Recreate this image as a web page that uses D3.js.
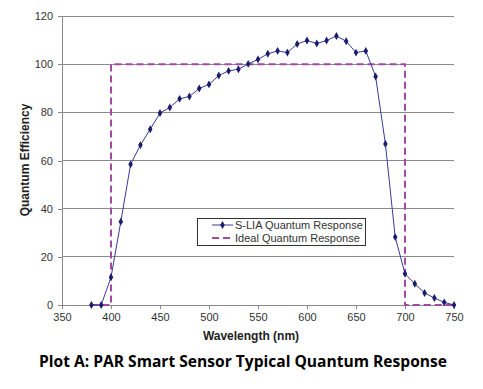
<!DOCTYPE html>
<html><head><meta charset="utf-8">
<script src="https://cdn.jsdelivr.net/npm/d3@7"></script>
<style>body{margin:0;background:#fff}svg{display:block}</style>
</head><body>
<svg id="c" width="483" height="389"></svg>
<script>
const wavelengths = [380,390,400,410,420,430,440,450,460,470,480,490,500,510,520,530,540,550,560,570,580,590,600,610,620,630,640,650,660,670,680,690,700,710,720,730,740,750];
const measured = [0,0,11.5,34.6,58.4,66.4,73,79.7,82,85.6,86.6,89.9,91.6,95.3,97.2,97.9,100.1,102,104.3,105.5,104.8,108.4,109.8,108.6,109.8,111.7,109.5,104.8,105.5,94.9,66.9,28.2,13,8.8,5,2.9,1.1,0];
const idealX = [380,400,400,700,700,750];
const idealY = [0,0,100,100,0,0];
const xTicks = [350,400,450,500,550,600,650,700,750];
const yTicks = [0,20,40,60,80,100,120];
const seriesNames = ["S-LIA Quantum Response","Ideal Quantum Response"];

const svg = d3.select("#c");
const x = d3.scaleLinear().domain([350,750]).range([62,454]);
const y = d3.scaleLinear().domain([0,120]).range([305,16]);
const axisFont = "Liberation Sans, Arial, sans-serif";

// gridlines
svg.append("g").selectAll("line").data(yTicks.filter(d=>d>0)).join("line")
  .attr("x1",x(350)).attr("x2",x(750)).attr("y1",d=>y(d)).attr("y2",d=>y(d))
  .attr("stroke","#8a8a8a").attr("stroke-width",1).attr("shape-rendering","crispEdges");

const ya = svg.append("g").attr("transform",`translate(${x(350)},0)`)
  .call(d3.axisLeft(y).tickValues(yTicks).tickSize(4).tickPadding(5));
const xa = svg.append("g").attr("transform",`translate(0,${y(0)})`)
  .call(d3.axisBottom(x).tickValues(xTicks).tickSize(4).tickPadding(4));
[ya,xa].forEach(a=>{
  a.select(".domain").attr("stroke","#8a8a8a");
  a.selectAll(".tick line").attr("stroke","#8a8a8a");
  a.selectAll("text").attr("font-family",axisFont).attr("font-size",11).attr("fill","#333");
  a.selectAll("path,line").attr("shape-rendering","crispEdges");
});

// ideal
const idealPts = idealX.map((v,i)=>[v,idealY[i]]);
svg.append("path").datum(idealPts)
  .attr("d",d3.line().x(d=>x(d[0])).y(d=>y(d[1])))
  .attr("fill","none").attr("stroke","#a24aa2").attr("stroke-width",2)
  .attr("stroke-dasharray","7,4");

// measured
const pts = wavelengths.map((v,i)=>[v,measured[i]]);
svg.append("path").datum(pts)
  .attr("d",d3.line().x(d=>x(d[0])).y(d=>y(d[1])))
  .attr("fill","none").attr("stroke","#3a3a96").attr("stroke-width",1);
const sym = d3.symbol().type(d3.symbolDiamond).size(18);
svg.append("g").selectAll("path").data(pts).join("path")
  .attr("transform",d=>`translate(${x(d[0])},${y(d[1])})`)
  .attr("d",sym).attr("fill","#1c1c6e");

// legend
const lg = svg.append("g");
lg.append("rect").attr("x",197.5).attr("y",218.5).attr("width",168).attr("height",27)
  .attr("fill","#fff").attr("stroke","#333").attr("stroke-width",1);
lg.append("line").attr("x1",212).attr("x2",233).attr("y1",225).attr("y2",225).attr("stroke","#3a3a96");
lg.append("path").attr("transform","translate(222.5,225)").attr("d",sym).attr("fill","#1c1c6e");
lg.append("line").attr("x1",212).attr("x2",233).attr("y1",238).attr("y2",238)
  .attr("stroke","#a24aa2").attr("stroke-width",2).attr("stroke-dasharray","7,4");
lg.selectAll("text").data(seriesNames).join("text")
  .attr("x",235).attr("y",(d,i)=>225+i*13+4).text(d=>d)
  .attr("font-family",axisFont).attr("font-size",11).attr("fill","#333");

// axis titles
svg.append("text").attr("x",251).attr("y",340).attr("text-anchor","middle")
  .attr("font-family",axisFont).attr("font-weight","bold").attr("font-size",12).attr("fill","#222")
  .text("Wavelength (nm)");
svg.append("text").attr("transform","translate(29,160) rotate(-90)").attr("text-anchor","middle")
  .attr("font-family",axisFont).attr("font-weight","bold").attr("font-size",12).attr("fill","#222")
  .text("Quantum Efficiency");
// caption
svg.append("text").attr("x",243).attr("y",367).attr("text-anchor","middle")
  .attr("font-family","Open Sans, sans-serif").attr("font-weight","bold").attr("font-size",15.5).attr("fill","#000")
  .attr("textLength",408).attr("lengthAdjust","spacingAndGlyphs")
  .text("Plot A: PAR Smart Sensor Typical Quantum Response");
</script>
</body></html>
